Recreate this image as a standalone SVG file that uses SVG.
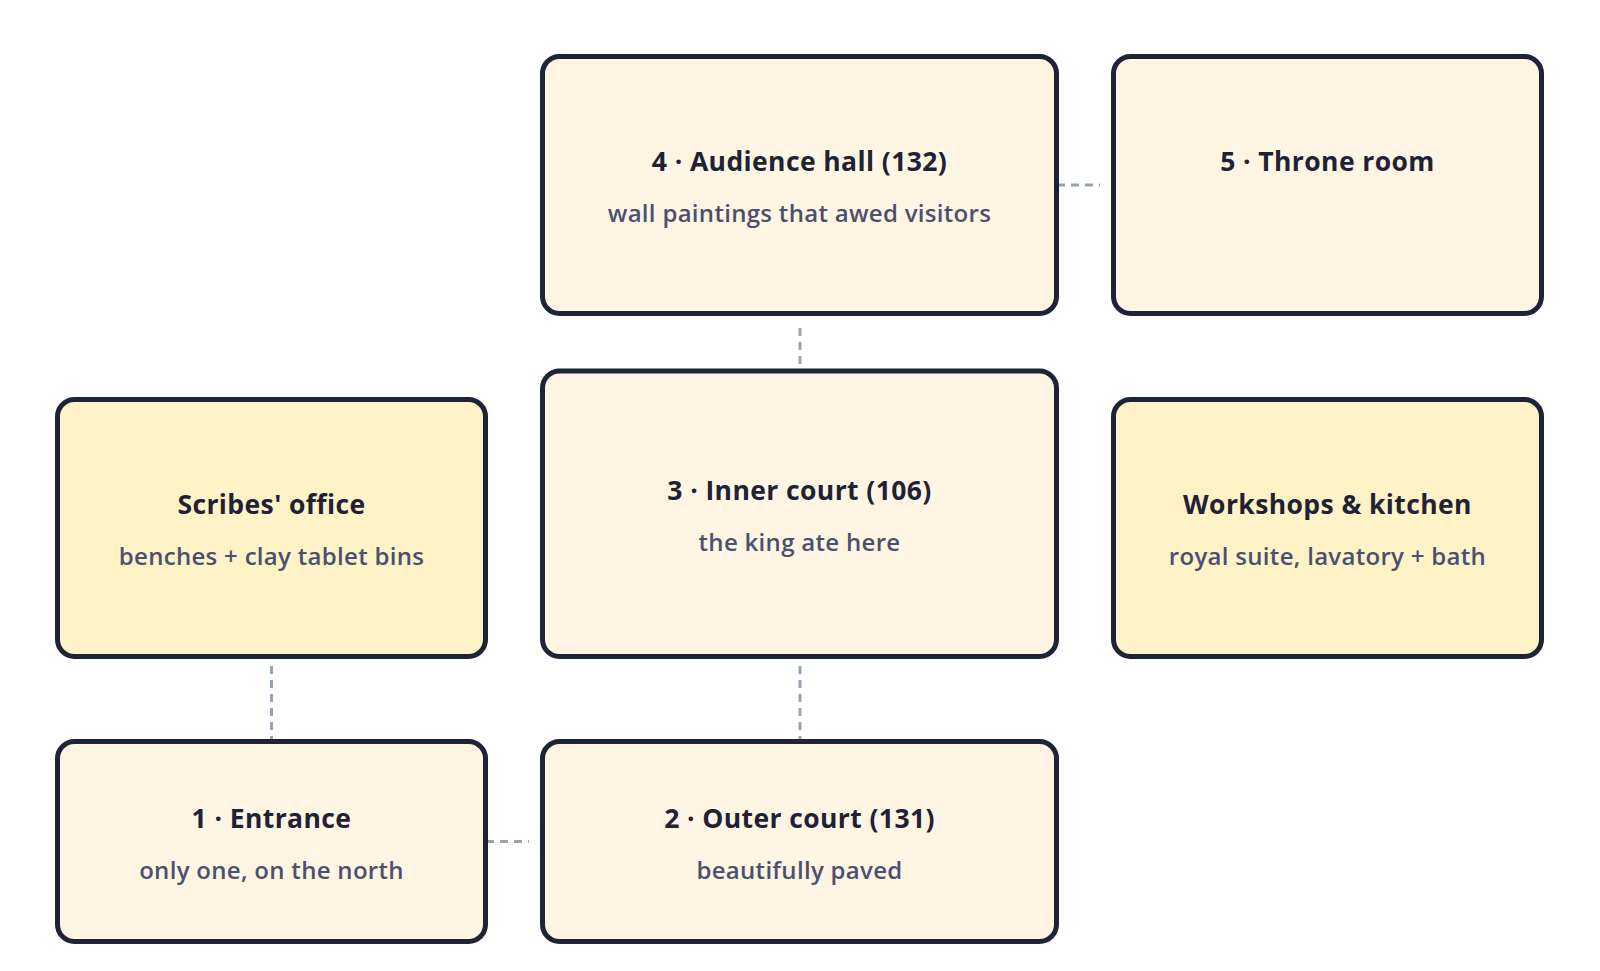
<svg xmlns="http://www.w3.org/2000/svg" width="1600" height="971" viewBox="0 0 1600 971">
<style>
.box{stroke:#1e2437;stroke-width:5}
.cream{fill:#fff5e2}
.yellow{fill:#fef2c6}
.t{font-family:"Open Sans",Lato,sans-serif;font-weight:700;font-size:26.5px;letter-spacing:0.4px;fill:#1e2235;text-anchor:middle}
.s{font-family:"Open Sans",Lato,sans-serif;font-weight:600;font-size:24px;letter-spacing:0.3px;fill:#4a5170;text-anchor:middle}
.c{stroke:#94a3b8;stroke-width:3;stroke-dasharray:8 6;fill:none}
</style>
<rect width="1600" height="971" fill="#ffffff"/>
<g id="connectors">
<line class="c" x1="1057" y1="185" x2="1100" y2="185"/>
<line class="c" x1="800" y1="328" x2="800" y2="371"/>
<line class="c" x1="271.5" y1="666" x2="271.5" y2="741.5"/>
<line class="c" x1="800" y1="666" x2="800" y2="741.5"/>
<line class="c" x1="486" y1="841.5" x2="529" y2="841.5"/>
</g>
<g id="audience">
<rect class="box cream" x="542.5" y="56.5" width="514" height="257" rx="17"/>
<text class="t" x="799.5" y="171">4 · Audience hall (132)</text>
<text class="s" x="799.5" y="222">wall paintings that awed visitors</text>
</g>
<g id="throne">
<rect class="box cream" x="1113.5" y="56.5" width="428" height="257" rx="17"/>
<text class="t" x="1327.5" y="171">5 · Throne room</text>
</g>
<g id="scribes">
<rect class="box yellow" x="57.5" y="399.5" width="428" height="257" rx="17"/>
<text class="t" x="271.5" y="514">Scribes' office</text>
<text class="s" x="271.5" y="565">benches + clay tablet bins</text>
</g>
<g id="inner">
<rect class="box cream" x="542.5" y="371" width="514" height="285.5" rx="17"/>
<text class="t" x="799.5" y="500">3 · Inner court (106)</text>
<text class="s" x="799.5" y="551">the king ate here</text>
</g>
<g id="workshops">
<rect class="box yellow" x="1113.5" y="399.5" width="428" height="257" rx="17"/>
<text class="t" x="1327.5" y="514">Workshops &amp; kitchen</text>
<text class="s" x="1327.5" y="565">royal suite, lavatory + bath</text>
</g>
<g id="entrance">
<rect class="box cream" x="57.5" y="741.5" width="428" height="200" rx="17"/>
<text class="t" x="271.5" y="827.5">1 · Entrance</text>
<text class="s" x="271.5" y="878.5">only one, on the north</text>
</g>
<g id="outer">
<rect class="box cream" x="542.5" y="741.5" width="514" height="200" rx="17"/>
<text class="t" x="799.5" y="827.5">2 · Outer court (131)</text>
<text class="s" x="799.5" y="878.5">beautifully paved</text>
</g>
</svg>
